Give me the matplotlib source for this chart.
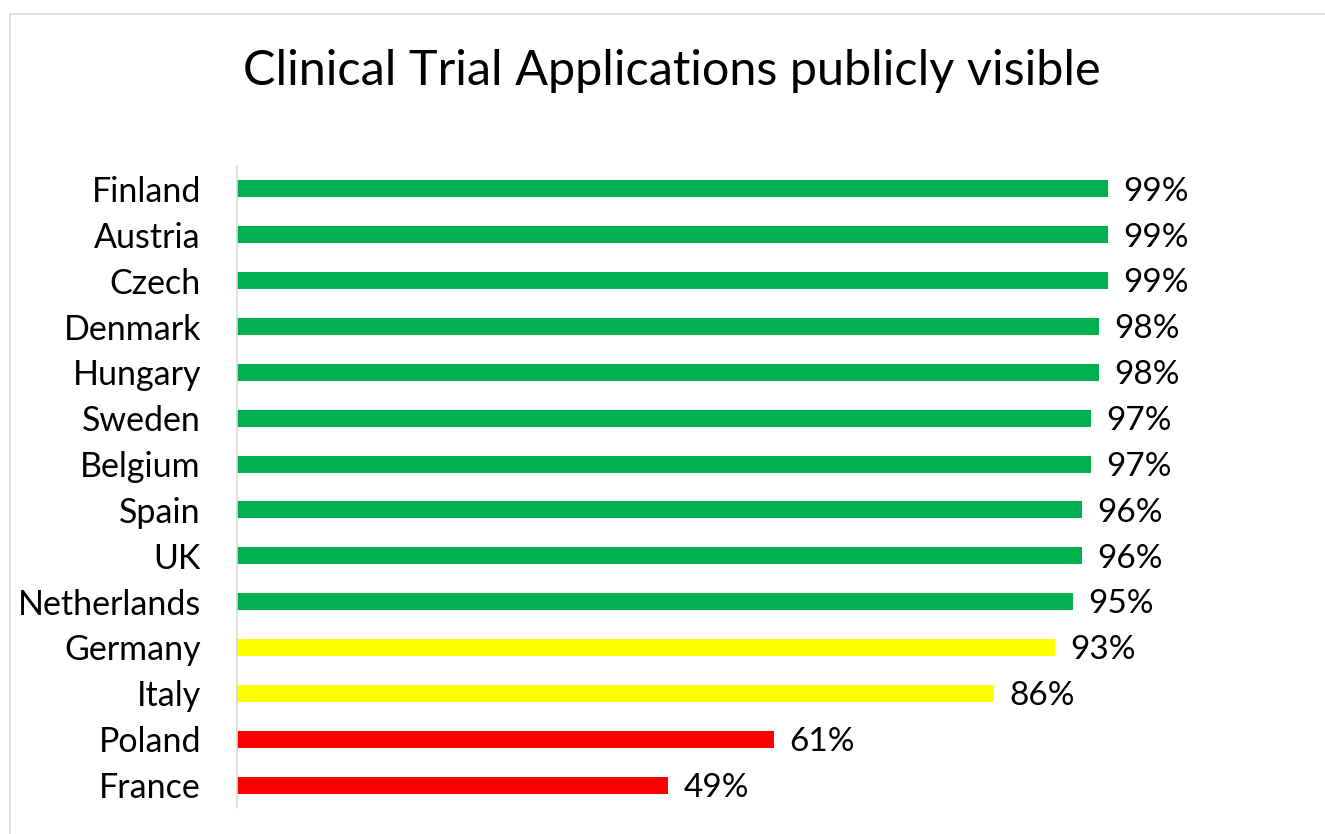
import matplotlib
matplotlib.use("Agg")
import matplotlib.pyplot as plt
from matplotlib.patches import Rectangle

countries = ["Finland", "Austria", "Czech", "Denmark", "Hungary", "Sweden", "Belgium",
             "Spain", "UK", "Netherlands", "Germany", "Italy", "Poland", "France"]
values = [99, 99, 99, 98, 98, 97, 97, 96, 96, 95, 93, 86, 61, 49]
colors = ["#00B050"] * 10 + ["#FFFF00"] * 2 + ["#FF0000"] * 2
title = "Clinical Trial Applications publicly visible"

plt.rcParams['font.family'] = ['Lato', 'DejaVu Sans']

W, H = 1325, 834
fig = plt.figure(figsize=(W / 100, H / 100), dpi=100)
fig.patch.set_facecolor("white")

# outer chart border
fig.patches.append(Rectangle((10 / W, -0.1), 1.2, (H - 14) / H + 0.1,
                             transform=fig.transFigure, fill=False,
                             edgecolor="#d9d9d9", linewidth=1.2))

ax = fig.add_axes([237 / W, 1 - 808 / H, (1293 - 237) / W, (808 - 166) / H])
y = list(range(len(countries)))
ax.barh(y, values, height=0.37, color=colors)
ax.set_yticks(y)
ax.set_yticklabels(countries, fontsize=24.5)
ax.set_ylim(len(countries) - 0.5, -0.5)
ax.set_xlim(0, 120)
ax.set_xticks([])
ax.tick_params(axis="y", length=0, pad=26)
for s in ["top", "right", "bottom"]:
    ax.spines[s].set_visible(False)
ax.spines["left"].set_color("#d9d9d9")
ax.spines["left"].set_linewidth(1.2)

for yi, v in zip(y, values):
    ax.annotate(f"{v}%", (v, yi), xytext=(11, -2), textcoords="offset points",
                va="center", ha="left", fontsize=24)

fig.text(672 / W, 1 - 85 / H, title, ha="center", va="baseline", fontsize=35)

fig.savefig("out.png", dpi=100)
